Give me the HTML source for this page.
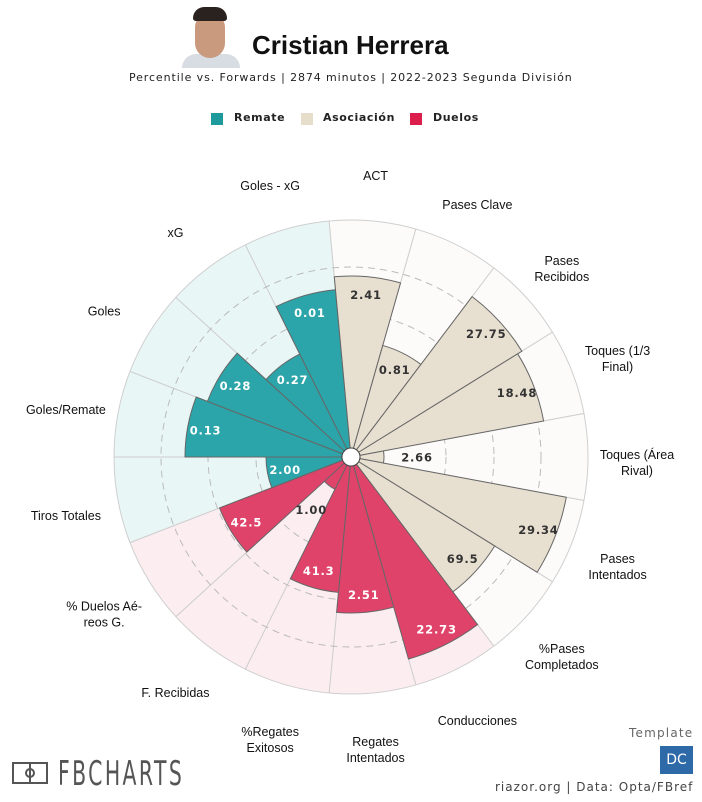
<!DOCTYPE html>
<html><head><meta charset="utf-8">
<style>
body{margin:0;background:#fff;}
#w{position:relative;width:702px;height:802px;overflow:hidden;font-family:"Liberation Sans",sans-serif;}
.t{position:absolute;white-space:nowrap;}
</style></head><body>
<div id="w">
<svg id="s" width="702" height="802" style="position:absolute;left:0;top:0"></svg>
<div style="position:absolute;left:180px;top:4px;width:62px;height:63px;">
 <div style="position:absolute;left:2px;top:50px;width:58px;height:14px;background:#d7dde3;border-radius:20px 20px 0 0"></div>
 <div style="position:absolute;left:15px;top:10px;width:30px;height:44px;background:#c99a7e;border-radius:14px 14px 16px 16px"></div>
 <div style="position:absolute;left:13px;top:3px;width:34px;height:14px;background:#2a221e;border-radius:16px 16px 4px 4px"></div>
</div>
<div class="t" style="left:252px;top:30px;font-size:26px;font-weight:bold;color:#111;letter-spacing:0px">Cristian Herrera</div>
<div class="t" style="left:129px;top:71px;color:#222;letter-spacing:0.9px;font-family:'DejaVu Sans',sans-serif;font-size:11px">Percentile vs. Forwards | 2874 minutos | 2022-2023 Segunda División</div>
<div style="position:absolute;left:211px;top:113px;width:12px;height:12px;background:#1f9a9c"></div>
<div class="t" style="left:234px;top:111px;font-size:11px;font-weight:bold;letter-spacing:0.6px;color:#222;font-family:'DejaVu Sans',sans-serif">Remate</div>
<div style="position:absolute;left:301px;top:113px;width:12px;height:12px;background:#e6ddca"></div>
<div class="t" style="left:323px;top:111px;font-size:11px;font-weight:bold;letter-spacing:0.6px;color:#222;font-family:'DejaVu Sans',sans-serif">Asociación</div>
<div style="position:absolute;left:410px;top:113px;width:12px;height:12px;background:#dc1e4d"></div>
<div class="t" style="left:433px;top:111px;font-size:11px;font-weight:bold;letter-spacing:0.6px;color:#222;font-family:'DejaVu Sans',sans-serif">Duelos</div>
<div style="position:absolute;left:12px;top:762px;width:36px;height:22px;border:2px solid #555;box-sizing:border-box"></div>
<div style="position:absolute;left:29px;top:762px;width:2px;height:22px;background:#555"></div>
<div style="position:absolute;left:25px;top:768px;width:10px;height:10px;border:2px solid #555;border-radius:50%;box-sizing:border-box"></div>
<div class="t" style="left:58px;top:754px;font-size:34px;color:#555;letter-spacing:4px;transform:scaleX(0.6);transform-origin:left top;font-family:'DejaVu Sans',sans-serif">FBCHARTS</div>
<div class="t" style="left:629px;top:726px;font-size:12px;color:#666;letter-spacing:1.2px;font-family:'DejaVu Sans',sans-serif">Template</div>
<div style="position:absolute;left:660px;top:746px;width:33px;height:28px;background:#2e6aa8;color:#fff;font-size:14px;text-align:center;line-height:28px;font-family:'DejaVu Sans',sans-serif">DC</div>
<div class="t" style="left:495px;top:780px;font-size:12px;color:#444;letter-spacing:1px;font-family:'DejaVu Sans',sans-serif">riazor.org | Data: Opta/FBref</div>
</div>
<script>
var cx=351,cy=457,R=237,r0=9;
var T="#2ba5a9",B="#e7dfd0",D="#e0436a";
var bgT="#e9f6f6",bgB="#fcfbf9",bgD="#fcedf1";
var d=[
["Goles/Remate",166,"0.13",T,bgT,"#fff"],
["Goles",154,"0.28",T,bgT,"#fff"],
["xG",115,"0.27",T,bgT,"#fff"],
["Goles - xG",168,"0.01",T,bgT,"#fff"],
["ACT",181,"2.41",B,bgB,"#333"],
["Pases Clave",116,"0.81",B,bgB,"#333"],
["Pases|Recibidos",201,"27.75",B,bgB,"#333"],
["Toques (1/3|Final)",196,"18.48",B,bgB,"#333"],
["Toques (Área|Rival)",33,"2.66",B,bgB,"#333"],
["Pases|Intentados",219,"29.34",B,bgB,"#333"],
["%Pases|Completados",169,"69.5",B,bgB,"#333"],
["Conducciones",210,"22.73",D,bgD,"#fff"],
["Regates|Intentados",156,"2.51",D,bgD,"#fff"],
["%Regates|Exitosos",136,"41.3",D,bgD,"#fff"],
["F. Recibidas",36,"1.00",D,bgD,"#333"],
["% Duelos Aé-|reos G.",141,"42.5",D,bgD,"#fff"],
["Tiros Totales",85,"2.00",T,bgT,"#fff"]];
var st=360/17,o="";
function P(r,a){var t=a*Math.PI/180;return [cx+r*Math.cos(t),cy-r*Math.sin(t)];}
function sec(r,a1,a2,fill,stroke,sw){var p1=P(r,a1),p2=P(r,a2),q1=P(r0,a1),q2=P(r0,a2);
return '<path d="M'+q1+' L'+p1+' A'+r+' '+r+' 0 0 1 '+p2+' L'+q2+' A'+r0+' '+r0+' 0 0 0 '+q1+' Z" fill="'+fill+'" stroke="'+stroke+'" stroke-width="'+sw+'"/>';}
d.forEach(function(e,k){var a1=180-st*k,a2=a1-st;o+=sec(R,a1,a2,e[4],"#cfcfcf",1);});
[95,143,190].forEach(function(r){o+='<circle cx="'+cx+'" cy="'+cy+'" r="'+r+'" fill="none" stroke="#bbb" stroke-width="1" stroke-dasharray="7,5"/>';});
d.forEach(function(e,k){var a1=180-st*k,a2=a1-st;o+=sec(e[1],a1,a2,e[3],"#666",1);});
o+='<circle cx="'+cx+'" cy="'+cy+'" r="'+r0+'" fill="#fff" stroke="#444" stroke-width="1"/>';
d.forEach(function(e,k){var am=180-st*(k+0.5);var lr=Math.max(e[1]-18,66);var p=P(lr,am);
o+='<text x="'+p[0]+'" y="'+(p[1]+4.5)+'" text-anchor="middle" font-family="DejaVu Sans,sans-serif" font-size="11.5" font-weight="bold" letter-spacing="0.8" fill="'+e[5]+'">'+e[2]+'</text>';
var q=P(288,am),ls=e[0].split("|"),y0=q[1]+10-(ls.length-1)*8;
ls.forEach(function(l,i){o+='<text x="'+(q[0]-2)+'" y="'+(y0+i*16)+'" text-anchor="middle" font-family="Liberation Sans,Arial,sans-serif" font-size="12.5" fill="#111">'+l+'</text>';});});
document.getElementById("s").innerHTML=o;
</script>
</body></html>
